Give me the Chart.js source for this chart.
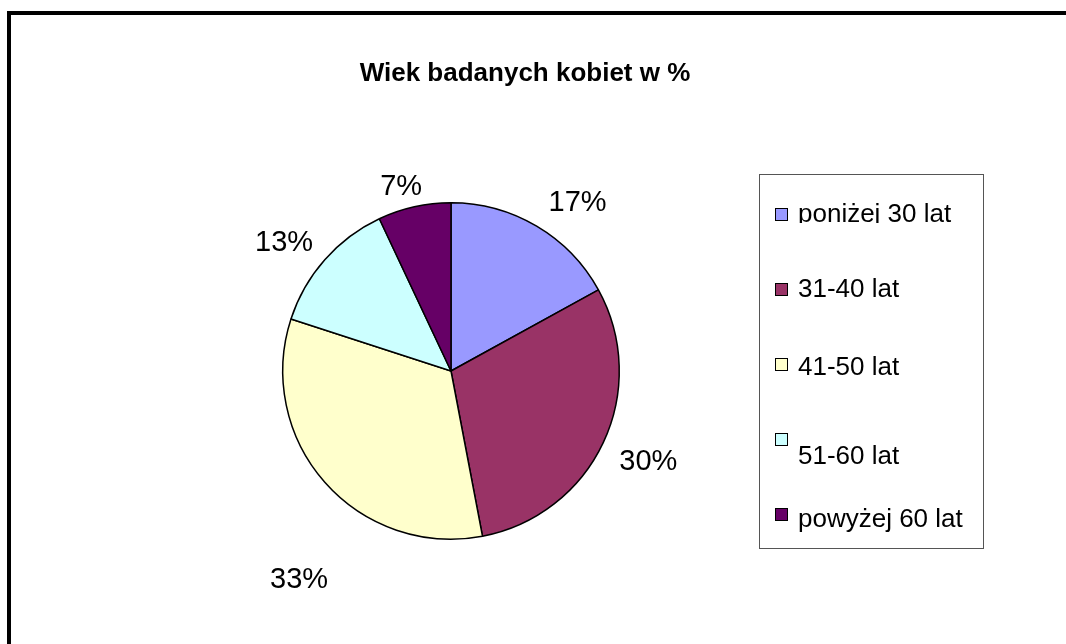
<!DOCTYPE html>
<html>
<head>
<meta charset="utf-8">
<script src="https://cdn.jsdelivr.net/npm/chart.js@4/dist/chart.umd.min.js"></script>
<style>
  html, body { margin: 0; padding: 0; background: #fff; }
  #wrap { position: relative; width: 1066px; height: 644px; overflow: hidden; }
</style>
</head>
<body>
<div id="wrap"><canvas id="pieChart" width="1066" height="644"></canvas></div>
<script>
// data
const categories = ['poniżej 30 lat', '31-40 lat', '41-50 lat', '51-60 lat', 'powyżej 60 lat'];
const values = [17, 30, 33, 13, 7];
const colors = ['#9999FF', '#993366', '#FFFFCC', '#CCFFFF', '#660066'];
const chartTitle = 'Wiek badanych kobiet w %';

const FONT = '"Liberation Sans", Arial, sans-serif';

// draws the frame, title, legend box and the % labels (Excel look)
const excelLook = {
    id: 'excelLook',
    beforeDraw(chart) {
        const ctx = chart.ctx;
        ctx.save();
        ctx.fillStyle = '#fff';
        ctx.fillRect(0, 0, chart.width, chart.height);
        // outer frame, only top & left are visible
        ctx.strokeStyle = '#000';
        ctx.lineWidth = 4;
        ctx.beginPath();
        ctx.moveTo(9, chart.height + 5);
        ctx.lineTo(9, 13);
        ctx.lineTo(chart.width + 5, 13);
        ctx.stroke();
        ctx.restore();
    },
    afterDraw(chart, args, opts) {
        const ctx = chart.ctx;
        ctx.save();

        // title
        ctx.fillStyle = '#000';
        ctx.font = 'bold 26px ' + FONT;
        ctx.textAlign = 'center';
        ctx.textBaseline = 'alphabetic';
        ctx.fillText(chartTitle, 525, 81);

        // percentage labels outside the slices
        const meta = chart.getDatasetMeta(0);
        const total = values.reduce((s, v) => s + v, 0);
        ctx.font = '29px ' + FONT;
        ctx.textAlign = 'center';
        ctx.textBaseline = 'middle';
        meta.data.forEach((arc, i) => {
            const p = arc.getProps(['x', 'y', 'startAngle', 'endAngle', 'outerRadius'], true);
            const mid = (p.startAngle + p.endAngle) / 2;
            const dx = Math.cos(mid), dy = Math.sin(mid);
            const txt = Math.round(values[i] / total * 100) + '%';
            const w = ctx.measureText(txt).width;
            const r = p.outerRadius + 12;
            const nudge = opts.nudge[i] || [0, 0];
            const lx = p.x + r * dx + w / 2 * dx + nudge[0];
            const ly = p.y + r * dy + 11 * dy + nudge[1];
            ctx.fillText(txt, lx, ly);
        });

        // legend box
        const lg = opts.legend;
        ctx.strokeStyle = '#555';
        ctx.lineWidth = 1;
        ctx.strokeRect(lg.x + 0.5, lg.y + 0.5, lg.w, lg.h);
        ctx.font = '26px ' + FONT;
        ctx.textAlign = 'left';
        ctx.textBaseline = 'alphabetic';
        categories.forEach((cat, i) => {
            const top = lg.y + lg.first + i * lg.step;
            ctx.fillStyle = colors[i];
            ctx.fillRect(lg.x + 16, top, 13, 13);
            ctx.strokeStyle = '#000';
            ctx.strokeRect(lg.x + 16.5, top + 0.5, 12, 12);
            ctx.fillStyle = '#000';
            const base = top + lg.textDrop[i];
            ctx.save();
            if (i === 0) {
                // Excel cut the first entry just under its baseline
                ctx.beginPath();
                ctx.rect(lg.x, top - 24, lg.w, base - top + 25);
                ctx.clip();
            }
            ctx.fillText(cat, lg.x + 39, base);
            ctx.restore();
        });
        ctx.restore();
    }
};

new Chart(document.getElementById('pieChart'), {
    type: 'pie',
    data: {
        labels: categories,
        datasets: [{
            data: values,
            backgroundColor: colors,
            borderColor: '#000',
            borderWidth: 1.5
        }]
    },
    options: {
        responsive: false,
        animation: false,
        events: [],
        layout: { padding: { left: 282, right: 446, top: 202, bottom: 104 } },
        plugins: {
            legend: { display: false },
            title: { display: false },
            tooltip: { enabled: false },
            excelLook: {
                legend: { x: 759, y: 174, w: 224, h: 374, first: 34, step: 75,
                          textDrop: [14, 14, 17, 31, 19] },
                nudge: [[20, -3], [8, 10], [5, 83], [-10, -2], [-6, 3]]
            }
        }
    },
    plugins: [excelLook]
});
</script>
</body>
</html>
